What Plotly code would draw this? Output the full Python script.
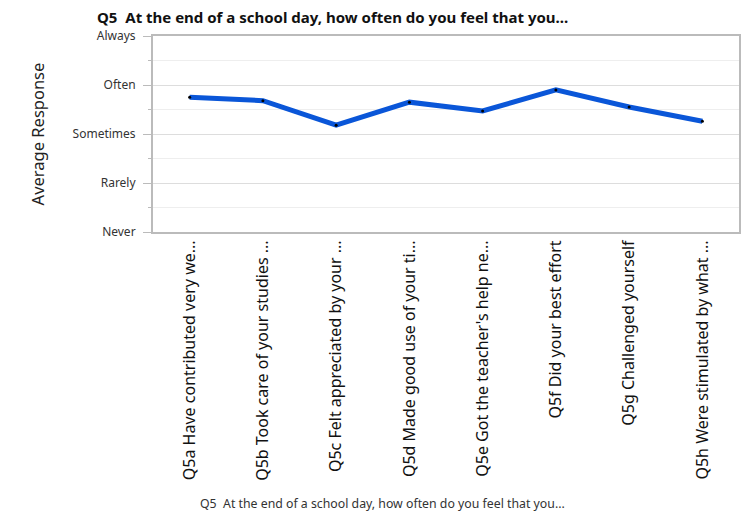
import plotly.graph_objects as go

categories = [
    "Q5a Have contributed very we...",
    "Q5b Took care of your studies ...",
    "Q5c Felt appreciated by your ...",
    "Q5d Made good use of your ti...",
    "Q5e Got the teacher's help ne...",
    "Q5f Did your best effort",
    "Q5g Challenged yourself",
    "Q5h Were stimulated by what ...",
]
values = [3.75, 3.68, 3.18, 3.65, 3.47, 3.90, 3.55, 3.26]
tick_vals = [1, 2, 3, 4, 5]
tick_text = ["Never", "Rarely", "Sometimes", "Often", "Always"]

title_text = "Q5  At the end of a school day, how often do you feel that you..."
x_title = "Q5  At the end of a school day, how often do you feel that you..."
y_title = "Average Response"

fig = go.Figure()
fig.add_trace(go.Scatter(
    x=categories, y=values, mode="lines+markers",
    line=dict(color="#0a56d8", width=5),
    marker=dict(color="black", size=3),
    showlegend=False,
))

fig.update_layout(
    width=744, height=513,
    margin=dict(l=153, r=3, t=36, b=281),
    paper_bgcolor="white", plot_bgcolor="white",
    font=dict(family="Noto Sans, Open Sans, sans-serif", color="#222"),
    xaxis=dict(
        tickangle=-90, tickfont=dict(size=16, color="#111"),
        showgrid=False, showline=True, linecolor="#bbbbbb", linewidth=2,
        mirror=True, ticks="", range=[-0.5, 7.5],
    ),
    yaxis=dict(
        range=[1, 5], tickvals=tick_vals, ticktext=tick_text,
        tickfont=dict(size=12, color="#333"),
        ticklabelstandoff=5,
        showgrid=True, gridcolor="#dddddd", gridwidth=1,
        showline=True, linecolor="#bbbbbb", linewidth=2, mirror=True,
        ticks="outside", ticklen=8, tickcolor="#bbbbbb", tickwidth=1,
        zeroline=False,
        minor=dict(dtick=0.5, tick0=1, showgrid=True, gridcolor="#eeeeee",
                   ticks="outside", ticklen=3, tickcolor="#bbbbbb"),
    ),
    annotations=[
        dict(text="<b>" + title_text + "</b>", xref="paper", yref="paper",
             x=(95 - 153) / 588, y=1 + (36 - 17) / 196, xanchor="left", yanchor="middle",
             showarrow=False, font=dict(size=15, color="#111")),
        dict(text=y_title, xref="paper", yref="paper", textangle=-90,
             x=(37 - 153) / 588, y=0.5, xanchor="center", yanchor="middle",
             showarrow=False, font=dict(size=16.5, color="#222")),
        dict(text=x_title, xref="paper", yref="paper",
             x=(383 - 153) / 588, y=-(503 - 232) / 196, xanchor="center", yanchor="middle",
             showarrow=False, font=dict(size=12.3, color="#333")),
    ],
)

fig.write_html("out.html")
